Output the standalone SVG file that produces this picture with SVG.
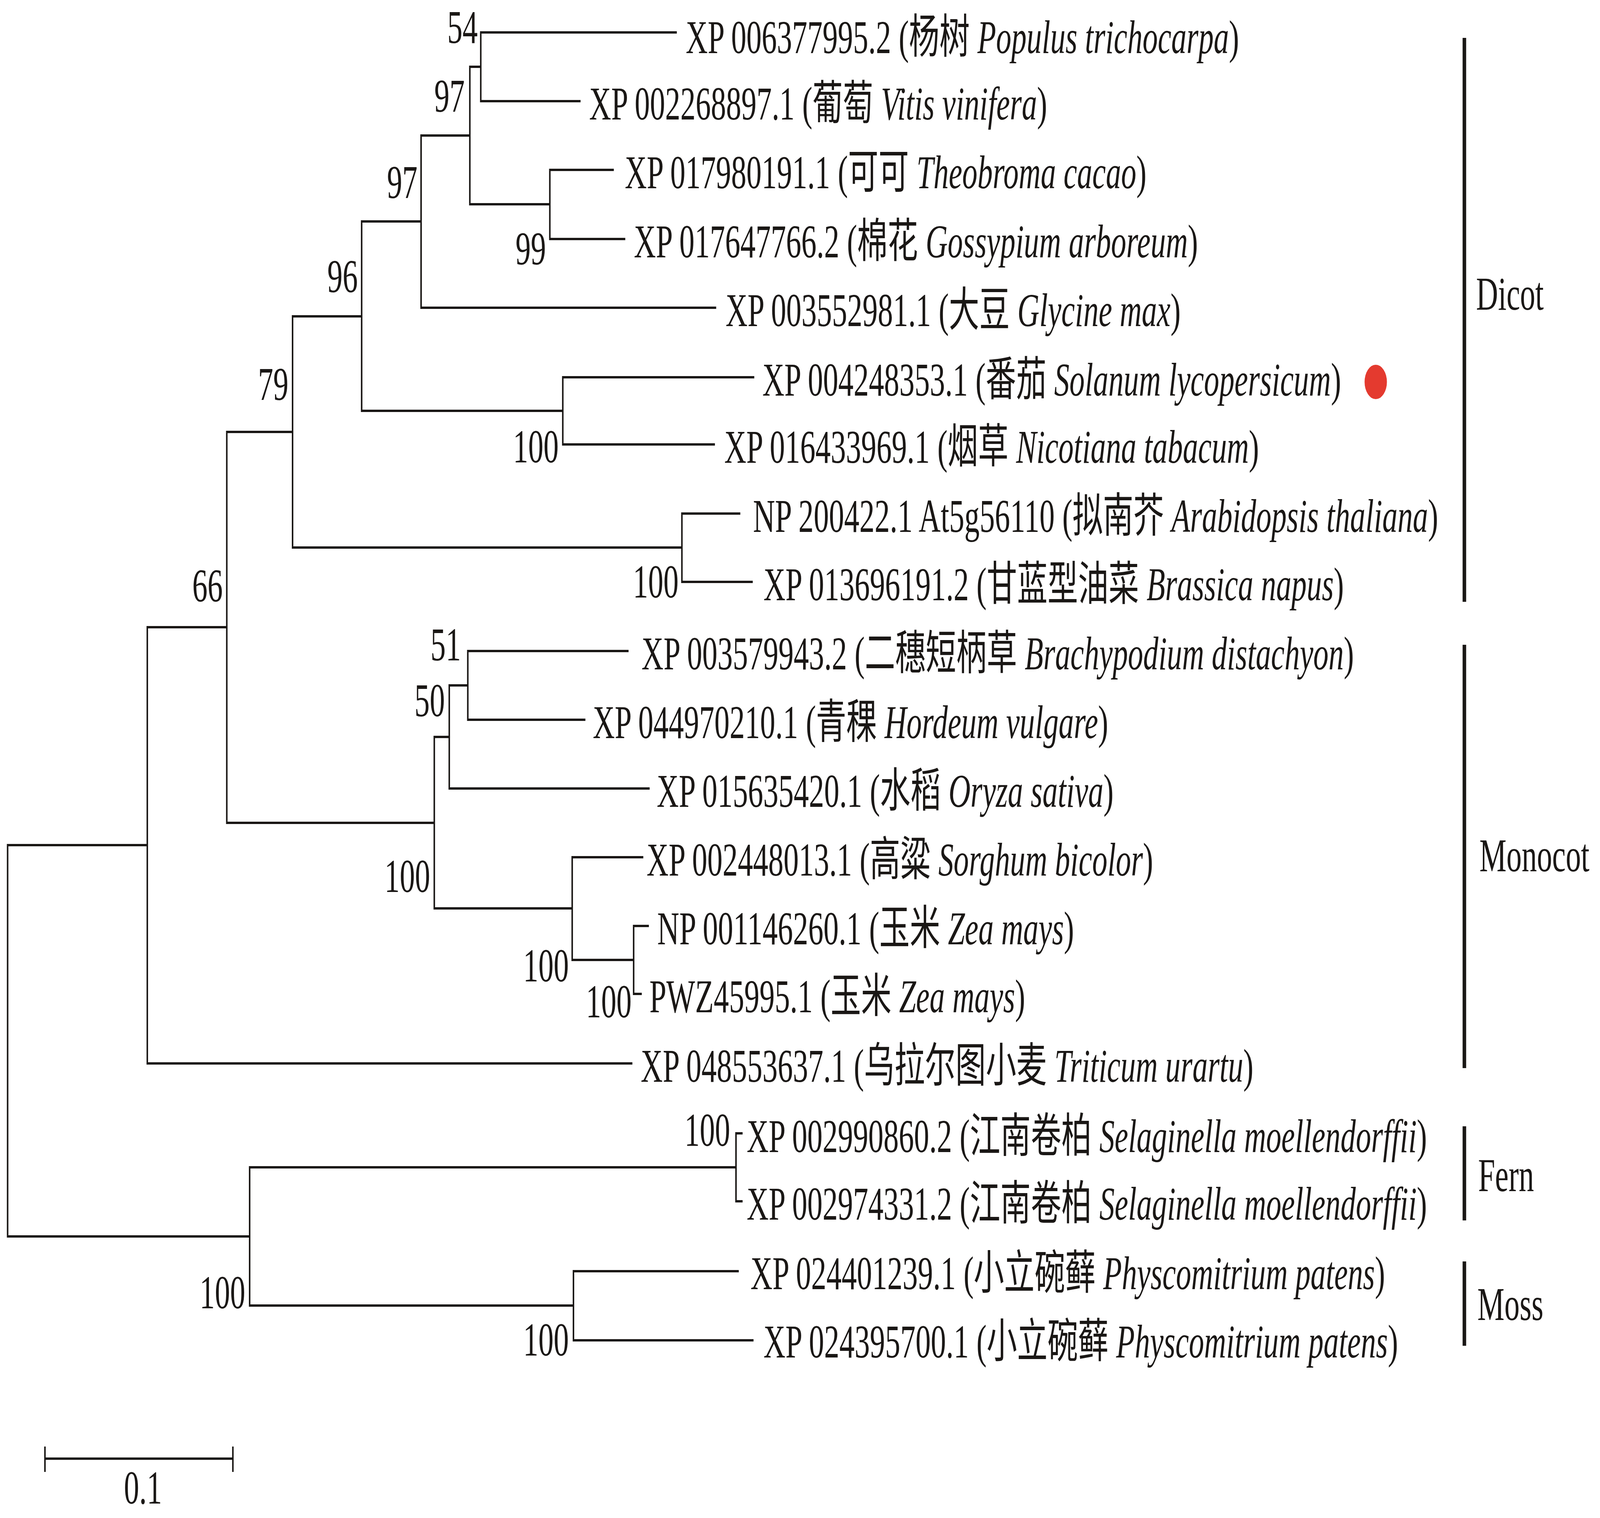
<svg xmlns="http://www.w3.org/2000/svg" width="6300" height="3887" viewBox="0 0 6300 3887" preserveAspectRatio="none" style="width:100vw;height:100vh;display:block">
<style>
text{font-family:"Liberation Serif","Times New Roman","Noto Sans CJK SC",serif;font-size:120px;fill:#1a1715}
.cjk{font-family:"Noto Sans CJK SC","Noto Sans CJK TC",sans-serif}
.it{font-style:italic}
.br{fill:none;stroke:#1a1715;stroke-width:6;stroke-linejoin:miter}
.bs{text-anchor:end}
.bar{fill:#1a1715}
</style>
<rect width="6300" height="3887" fill="#ffffff"/>
<g id="connectors">
<path class="br" d="M580 2164H30V3166H983"/>
<path class="br" d="M893 1606H580V2723H2490"/>
<path class="br" d="M1152 1106H893V2107H1710"/>
<path class="br" d="M1424 810H1152V1402H2685"/>
<path class="br" d="M1658 567H1424V1052H2216"/>
<path class="br" d="M1850 347H1658V788H2820"/>
<path class="br" d="M1893 171H1850V523H2165"/>
<path class="br" d="M2665 83H1893V259H2286"/>
<path class="br" d="M2417 435H2165V612H2462"/>
<path class="br" d="M2970 966H2216V1138H2815"/>
<path class="br" d="M2915 1315H2685V1490H2964"/>
<path class="br" d="M1769 1887H1710V2326H2253"/>
<path class="br" d="M1842 1755H1769V2019H2558"/>
<path class="br" d="M2475 1667H1842V1843H2305"/>
<path class="br" d="M2533 2195H2253V2458H2495"/>
<path class="br" d="M2555 2371H2495V2545H2527"/>
<path class="br" d="M2898 2989H983V3343H2258"/>
<path class="br" d="M2924 2902H2898V3076H2924"/>
<path class="br" d="M2909 3255H2258V3432H2967"/>
</g>
<g id="bootstrap">
<g id="n-A"><text class="bs" x="1881" y="110">54</text></g>
<g id="n-B"><text class="bs" x="1830" y="286">97</text></g>
<g id="n-D"><text class="bs" x="1644" y="507">97</text></g>
<g id="n-C"><text class="bs" x="2150" y="677">99</text></g>
<g id="n-F"><text class="bs" x="1409" y="748">96</text></g>
<g id="n-E"><text class="bs" x="2200" y="1184">100</text></g>
<g id="n-H"><text class="bs" x="1136" y="1024">79</text></g>
<g id="n-G"><text class="bs" x="2672" y="1530">100</text></g>
<g id="n-N"><text class="bs" x="877" y="1540">66</text></g>
<g id="n-I"><text class="bs" x="1815" y="1691">51</text></g>
<g id="n-J"><text class="bs" x="1752" y="1834">50</text></g>
<g id="n-M"><text class="bs" x="1694" y="2284">100</text></g>
<g id="n-L"><text class="bs" x="2240" y="2513">100</text></g>
<g id="n-K"><text class="bs" x="2487" y="2605">100</text></g>
<g id="n-P"><text class="bs" x="2875" y="2934">100</text></g>
<g id="n-R"><text class="bs" x="966" y="3350">100</text></g>
<g id="n-Q"><text class="bs" x="2240" y="3471">100</text></g>
</g>
<g id="leaves">
<g id="leaf1"><text x="2700" y="136">XP 006377995.2 (<tspan class="cjk">杨树</tspan> <tspan class="it">Populus trichocarpa</tspan>)</text></g>
<g id="leaf2"><text x="2320" y="306">XP 002268897.1 (<tspan class="cjk">葡萄</tspan> <tspan class="it">Vitis vinifera</tspan>)</text></g>
<g id="leaf3"><text x="2460" y="482">XP 017980191.1 (<tspan class="cjk">可可</tspan> <tspan class="it">Theobroma cacao</tspan>)</text></g>
<g id="leaf4"><text x="2496" y="659">XP 017647766.2 (<tspan class="cjk">棉花</tspan> <tspan class="it">Gossypium arboreum</tspan>)</text></g>
<g id="leaf5"><text x="2857" y="835">XP 003552981.1 (<tspan class="cjk">大豆</tspan> <tspan class="it">Glycine max</tspan>)</text></g>
<g id="leaf6"><text x="3002" y="1013">XP 004248353.1 (<tspan class="cjk">番茄</tspan> <tspan class="it">Solanum lycopersicum</tspan>)</text><circle cx="5417" cy="978" r="44" fill="#e43a2f"/></g>
<g id="leaf7"><text x="2852" y="1185">XP 016433969.1 (<tspan class="cjk">烟草</tspan> <tspan class="it">Nicotiana tabacum</tspan>)</text></g>
<g id="leaf8"><text x="2965" y="1362">NP 200422.1 At5g56110 (<tspan class="cjk">拟南芥</tspan> <tspan class="it">Arabidopsis thaliana</tspan>)</text></g>
<g id="leaf9"><text x="3006" y="1537">XP 013696191.2 (<tspan class="cjk">甘蓝型油菜</tspan> <tspan class="it">Brassica napus</tspan>)</text></g>
<g id="leaf10"><text x="2526" y="1714">XP 003579943.2 (<tspan class="cjk">二穗短柄草</tspan> <tspan class="it">Brachypodium distachyon</tspan>)</text></g>
<g id="leaf11"><text x="2334" y="1890">XP 044970210.1 (<tspan class="cjk">青稞</tspan> <tspan class="it">Hordeum vulgare</tspan>)</text></g>
<g id="leaf12"><text x="2586" y="2066">XP 015635420.1 (<tspan class="cjk">水稻</tspan> <tspan class="it">Oryza sativa</tspan>)</text></g>
<g id="leaf13"><text x="2546" y="2242">XP 002448013.1 (<tspan class="cjk">高粱</tspan> <tspan class="it">Sorghum bicolor</tspan>)</text></g>
<g id="leaf14"><text x="2588" y="2418">NP 001146260.1 (<tspan class="cjk">玉米</tspan> <tspan class="it">Zea mays</tspan>)</text></g>
<g id="leaf15"><text x="2557" y="2592">PWZ45995.1 (<tspan class="cjk">玉米</tspan> <tspan class="it">Zea mays</tspan>)</text></g>
<g id="leaf16"><text x="2523" y="2770">XP 048553637.1 (<tspan class="cjk">乌拉尔图小麦</tspan> <tspan class="it">Triticum urartu</tspan>)</text></g>
<g id="leaf17"><text x="2940" y="2950">XP 002990860.2 (<tspan class="cjk">江南卷柏</tspan> <tspan class="it">Selaginella moellendorffii</tspan>)</text></g>
<g id="leaf18"><text x="2940" y="3123">XP 002974331.2 (<tspan class="cjk">江南卷柏</tspan> <tspan class="it">Selaginella moellendorffii</tspan>)</text></g>
<g id="leaf19"><text x="2955" y="3301">XP 024401239.1 (<tspan class="cjk">小立碗藓</tspan> <tspan class="it">Physcomitrium patens</tspan>)</text></g>
<g id="leaf20"><text x="3006" y="3476">XP 024395700.1 (<tspan class="cjk">小立碗藓</tspan> <tspan class="it">Physcomitrium patens</tspan>)</text></g>
</g>
<g id="groups">
<g id="grp-dicot"><rect class="bar" x="5759" y="97" width="14" height="1444"/><text x="5812" y="793">Dicot</text></g>
<g id="grp-monocot"><rect class="bar" x="5759" y="1651" width="14" height="1084"/><text x="5825" y="2231">Monocot</text></g>
<g id="grp-fern"><rect class="bar" x="5759" y="2884" width="14" height="241"/><text x="5820" y="3050">Fern</text></g>
<g id="grp-moss"><rect class="bar" x="5759" y="3230" width="14" height="216"/><text x="5817" y="3380">Moss</text></g>
</g>
<g id="scale-bar">
<path class="br" d="M177 3735H917M177 3704V3769M917 3704V3769"/>
<text x="563" y="3850" text-anchor="middle">0.1</text>
</g>
</svg>
